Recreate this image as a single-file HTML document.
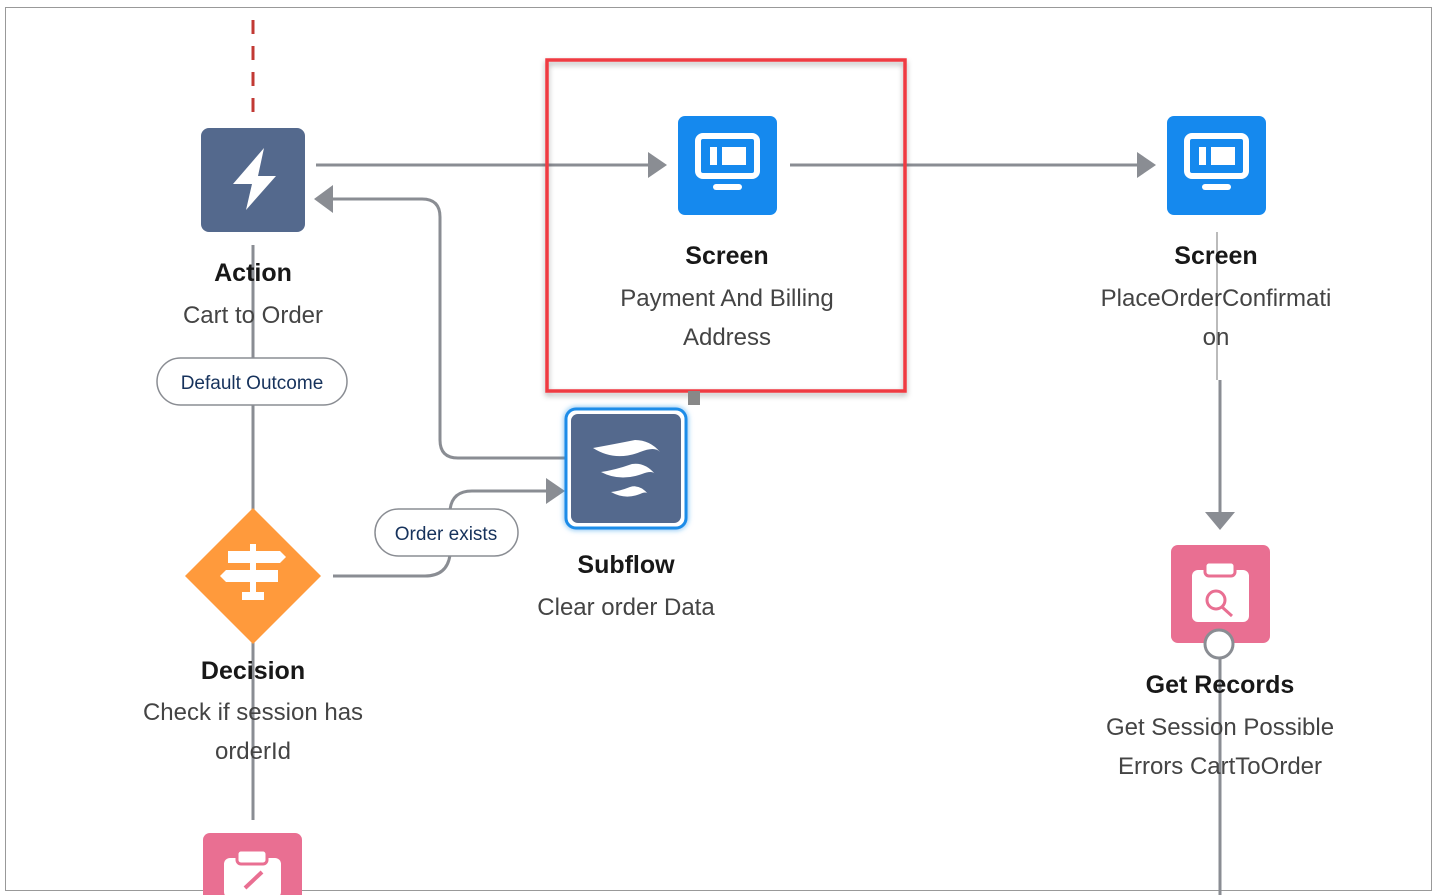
<!DOCTYPE html>
<html><head><meta charset="utf-8"><style>
html,body{margin:0;padding:0;background:#fff;width:1440px;height:895px;overflow:hidden}
svg{display:block}
text{font-family:"Liberation Sans",sans-serif}
.t{font-weight:bold;font-size:25px;fill:#181818;text-anchor:middle}
.s{font-size:24px;fill:#444;text-anchor:middle}
.ln{stroke:#8a8d93;stroke-width:3;fill:none}
.ar{fill:#8a8d93}
</style></head><body>
<svg width="1440" height="895" viewBox="0 0 1440 895">
<defs>
<filter id="sh" x="-10%" y="-10%" width="120%" height="120%"><feDropShadow dx="0" dy="3" stdDeviation="3" flood-color="#000" flood-opacity="0.3"/></filter>
<filter id="gl" x="-20%" y="-20%" width="140%" height="140%"><feDropShadow dx="0" dy="0" stdDeviation="3" flood-color="#1b8ce8" flood-opacity="0.7"/></filter>
</defs>
<rect x="5.5" y="7.5" width="1426" height="883" fill="#fff" stroke="#999" stroke-width="1"/>
<!-- red dashed -->
<line x1="253" y1="20" x2="253" y2="120" stroke="#c23934" stroke-width="3" stroke-dasharray="14,12"/>
<!-- vertical left line -->
<line x1="253" y1="245" x2="253" y2="512" class="ln"/>
<line x1="253" y1="642" x2="253" y2="820" class="ln"/>
<!-- action -> screen -->
<line x1="316" y1="165" x2="650" y2="165" class="ln"/>
<polygon points="648,152 667,165 648,178" class="ar"/>
<line x1="790" y1="165" x2="1140" y2="165" class="ln"/>
<polygon points="1137,152 1156,165 1137,178" class="ar"/>
<!-- back arrow subflow -> action -->
<path d="M565,458 H458 Q440,458 440,440 V217 Q440,199 422,199 H332" class="ln"/>
<polygon points="333,185 314,199 333,213" class="ar"/>
<!-- decision -> subflow -->
<path d="M333,576 H425 Q447,576 450,555 V510 Q452,491 472,491 H548" class="ln"/>
<polygon points="546,478 565,491 546,504" class="ar"/>
<!-- right vertical -->
<line x1="1217" y1="232" x2="1217" y2="380" stroke="#bbb" stroke-width="2"/>
<line x1="1220" y1="380" x2="1220" y2="512" class="ln"/>
<polygon points="1205,512 1235,512 1220,530" class="ar"/>
<line x1="1220" y1="655" x2="1220" y2="895" class="ln"/>
<!-- red highlight -->
<rect x="547" y="60" width="358" height="331" fill="none" stroke="#ef3b42" stroke-width="3.5" filter="url(#sh)"/>
<rect x="688" y="391" width="12" height="14" fill="#888"/>
<!-- Action node -->
<rect x="201" y="128" width="104" height="104" rx="8" fill="#54698d"/>
<path d="M264,148 L233,184 L252,184 L246,210 L276,176 L258,176 Z" fill="#fff"/>
<text x="253" y="281" class="t">Action</text>
<text x="253" y="323" class="s">Cart to Order</text>
<!-- Screen 1 -->
<rect x="678" y="116" width="99" height="99" rx="7" fill="#1589ee"/>
<rect x="698" y="136" width="59" height="40" rx="5" fill="none" stroke="#fff" stroke-width="6"/>
<rect x="710" y="147" width="7" height="18" fill="#fff"/><rect x="722" y="147" width="24" height="18" fill="#fff"/>
<rect x="713" y="184" width="29" height="6" rx="3" fill="#fff"/>
<text x="727" y="264" class="t">Screen</text>
<text x="727" y="306" class="s">Payment And Billing</text>
<text x="727" y="345" class="s">Address</text>
<!-- Screen 2 -->
<rect x="1167" y="116" width="99" height="99" rx="7" fill="#1589ee"/>
<rect x="1187" y="136" width="59" height="40" rx="5" fill="none" stroke="#fff" stroke-width="6"/>
<rect x="1199" y="147" width="7" height="18" fill="#fff"/><rect x="1211" y="147" width="24" height="18" fill="#fff"/>
<rect x="1202" y="184" width="29" height="6" rx="3" fill="#fff"/>
<text x="1216" y="264" class="t">Screen</text>
<text x="1216" y="306" class="s">PlaceOrderConfirmati</text>
<text x="1216" y="345" class="s">on</text>
<!-- labels pills -->
<rect x="157" y="358" width="190" height="47" rx="23.5" fill="#fff" stroke="#8a8d93" stroke-width="1.5"/>
<text x="252" y="389" font-size="19" fill="#16325c" text-anchor="middle">Default Outcome</text>
<rect x="375" y="509" width="143" height="47" rx="23.5" fill="#fff" stroke="#8a8d93" stroke-width="1.5"/>
<text x="446" y="540" font-size="19" fill="#16325c" text-anchor="middle">Order exists</text>
<!-- Subflow -->
<rect x="566" y="409" width="120" height="119" rx="10" fill="#fff" stroke="#1b8ce8" stroke-width="3" filter="url(#gl)"/>
<rect x="571" y="414" width="110" height="109" rx="7" fill="#54698d"/>
<path d="M593,448 Q615,462 640,452 Q655,446 660,452 Q650,440 635,440 Q615,444 593,448 Z" fill="#fff"/>
<path d="M601,472 Q620,482 642,474 Q652,470 655,474 Q645,462 632,464 Q615,470 601,472 Z" fill="#fff"/>
<path d="M611,492 Q625,500 640,494 Q646,491 648,494 Q640,484 630,487 Q620,491 611,492 Z" fill="#fff"/>
<text x="626" y="573" class="t">Subflow</text>
<text x="626" y="615" class="s">Clear order Data</text>
<!-- Decision -->
<polygon points="253,508 321,576 253,644 185,576" fill="#ff9a3c"/>
<rect x="228" y="551" width="52" height="12" fill="#fff"/><polygon points="280,551 286,557 280,563" fill="#fff"/>
<rect x="226" y="570" width="52" height="12" fill="#fff"/><polygon points="226,570 220,576 226,582" fill="#fff"/>
<rect x="250" y="544" width="6" height="50" fill="#fff"/><rect x="242" y="592" width="22" height="8" fill="#fff"/>
<text x="253" y="679" class="t">Decision</text>
<text x="253" y="720" class="s">Check if session has</text>
<text x="253" y="759" class="s">orderId</text>
<!-- Get Records -->
<rect x="1171" y="545" width="99" height="98" rx="7" fill="#e96f92"/>
<rect x="1192" y="570" width="57" height="52" rx="6" fill="#fff"/>
<rect x="1205" y="562" width="30" height="14" rx="4" fill="#fff" stroke="#e96f92" stroke-width="3"/>
<circle cx="1216" cy="600" r="9" fill="none" stroke="#e96f92" stroke-width="3"/>
<line x1="1222" y1="607" x2="1232" y2="616" stroke="#e96f92" stroke-width="3"/>
<circle cx="1219" cy="644" r="14" fill="#fff" stroke="#8a8d93" stroke-width="3"/>
<text x="1220" y="693" class="t">Get Records</text>
<text x="1220" y="735" class="s">Get Session Possible</text>
<text x="1220" y="774" class="s">Errors CartToOrder</text>
<!-- bottom pink -->
<rect x="203" y="833" width="99" height="80" rx="7" fill="#e96f92"/>
<rect x="224" y="858" width="57" height="40" rx="6" fill="#fff"/>
<rect x="237" y="850" width="30" height="14" rx="4" fill="#fff" stroke="#e96f92" stroke-width="3"/>
<line x1="245" y1="888" x2="262" y2="872" stroke="#e96f92" stroke-width="4"/>
</svg>
</body></html>
